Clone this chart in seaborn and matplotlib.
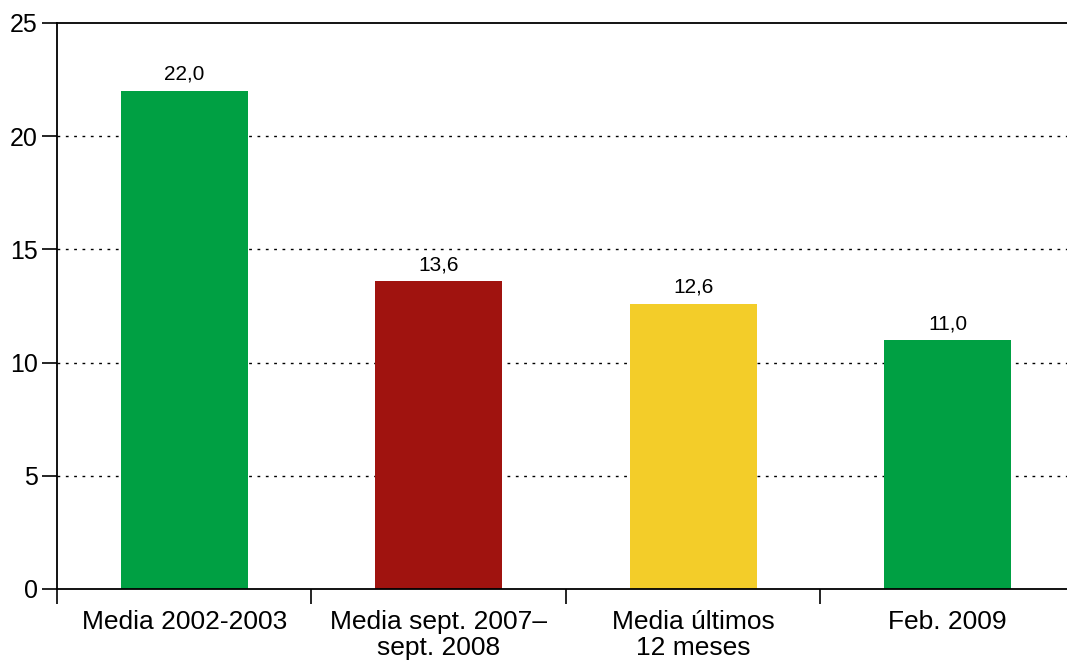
import pandas as pd
import seaborn as sns
import matplotlib.pyplot as plt

categories = ["Media 2002-2003", "Media sept. 2007–\nsept. 2008", "Media últimos\n12 meses", "Feb. 2009"]
values = [22.0, 13.6, 12.6, 11.0]
colors = ["#00A043", "#A0130F", "#F3CD29", "#00A043"]
yticks = [0, 5, 10, 15, 20, 25]

df = pd.DataFrame({"cat": categories, "val": values})

sns.set_style("white")
plt.rcParams['font.family'] = ['Liberation Sans', 'DejaVu Sans']
plt.rcParams['text.color'] = 'black'
plt.rcParams['xtick.color'] = 'black'
plt.rcParams['ytick.color'] = 'black'

fig = plt.figure(figsize=(10.67, 6.62), dpi=100)
ax = fig.add_axes([57 / 1067, 1 - 589 / 662, 1 - 57 / 1067, (589 - 23) / 662])

sns.barplot(data=df, x="cat", y="val", hue="cat", palette=colors, width=0.5,
            saturation=1, legend=False, linewidth=0, ax=ax)

for i, v in enumerate(values):
    ax.annotate(f"{v:.1f}".replace(".", ","), (i, v), xytext=(0, 5), textcoords="offset points",
                ha="center", va="bottom", fontsize=15, color="black")

ax.set_xlim(-0.5, 3.469)
ax.set_ylim(0, 25)
ax.set_yticks(yticks)
ax.set_yticklabels([str(t) for t in yticks], fontsize=18)
ax.set_xticks([0, 1, 2, 3])
ax.set_xticklabels(categories, fontsize=19, linespacing=1.13)
ax.set_xticks([-0.5, 0.5, 1.5, 2.5], minor=True)
ax.tick_params(axis="x", which="major", length=0, pad=15, labelcolor="black")
ax.tick_params(axis="x", which="minor", bottom=True, length=11, width=1.2, color="black", direction="out")
ax.tick_params(axis="y", length=11, width=1.2, color="black", direction="out", left=True, pad=3,
               labelcolor="black")

for y in yticks[1:-1]:
    ax.axhline(y, color="black", linestyle=(0, (2, 4)), linewidth=1, zorder=0)

for s in ["left", "bottom", "top"]:
    ax.spines[s].set_visible(True)
    ax.spines[s].set_color("black")
    ax.spines[s].set_linewidth(1.3)
ax.spines["right"].set_visible(False)
ax.set_xlabel("")
ax.set_ylabel("")

fig.savefig("out.png", dpi=100)
